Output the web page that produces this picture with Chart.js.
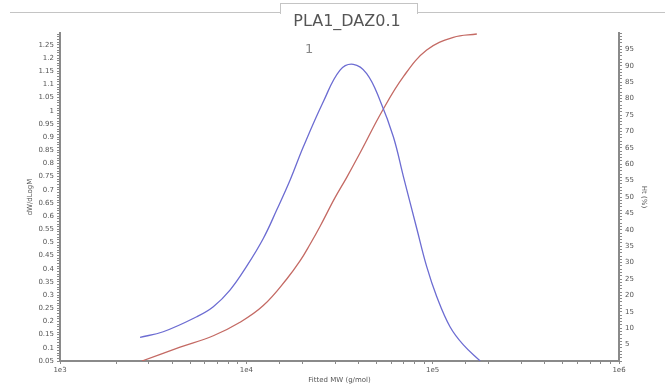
<!DOCTYPE html>
<html>
<head>
<meta charset="utf-8">
<script src="https://cdn.jsdelivr.net/npm/chart.js@4.4.1/dist/chart.umd.min.js"></script>
<style>
  html, body { margin: 0; padding: 0; background: #fff; }
  #wrap { position: relative; width: 665px; height: 386px; overflow: hidden; }
  #tabline { position: absolute; left: 10px; right: 0; top: 12px; border-top: 1px solid #c4c4c4; }
  #tab { position: absolute; left: 280px; top: 3px; width: 136px; height: 10px;
         border: 1px solid #c4c4c4; border-bottom: none; background: #fff; }
  #title { position: absolute; left: 0; width: 694px; top: 11px; text-align: center;
           font: 16px "DejaVu Sans", sans-serif; color: #555; }
  #peak { position: absolute; left: 305px; top: 41px; font: 13px "DejaVu Sans", sans-serif; color: #888; }
  canvas { position: absolute; left: 0; top: 0; }
</style>
</head>
<body>
<div id="wrap">
  <canvas id="chart" width="665" height="386"></canvas>
  <div id="tabline"></div>
  <div id="tab"></div>
  <div id="title">PLA1_DAZ0.1</div>
  <div id="peak">1</div>
</div>
<script>
// dW/dLogM curve
const mwDist = [2690, 3580, 5420, 6650, 8170, 10050, 12330, 14550, 17180, 20230, 25880, 31840, 37500,
                44260, 52120, 61520, 69660, 82220, 92900, 105200, 123900, 146200, 179900];
const dwdlogm = [0.140, 0.161, 0.218, 0.256, 0.319, 0.410, 0.515, 0.623, 0.737, 0.863, 1.034, 1.154, 1.176,
                 1.141, 1.040, 0.901, 0.750, 0.552, 0.408, 0.294, 0.180, 0.111, 0.050];

// cumulative Ht (%) curve
const mwCum = [2750, 4410, 6650, 9250, 12330, 16480, 19410, 21980, 24890, 29920, 34590, 40740,
               53330, 69660, 92900, 129100, 172600];
const htPct = [0, 4.2, 7.7, 11.8, 16.9, 25.0, 30.5, 35.6, 41.1, 49.8, 56.0, 63.4,
               76.0, 86.7, 94.8, 98.7, 99.7];

const axisColor = '#8a8a8a';
const tickFont = { family: 'DejaVu Sans', size: 7 };

const distPoints = mwDist.map((m, i) => ({ x: m, y: dwdlogm[i] }));
const cumPoints = mwCum.map((m, i) => ({ x: m, y: htPct[i] }));

new Chart(document.getElementById('chart'), {
    type: 'line',
    data: {
        datasets: [{
            data: distPoints,
            yAxisID: 'y',
            borderColor: '#6c6cd2',
            borderWidth: 1.3,
            pointRadius: 0,
            tension: 0.4
        }, {
            data: cumPoints,
            yAxisID: 'y1',
            borderColor: '#c46a64',
            borderWidth: 1.3,
            pointRadius: 0,
            tension: 0.4
        }]
    },
    options: {
        responsive: false,
        animation: false,
        layout: { padding: { top: 33 } },
        plugins: { legend: { display: false }, tooltip: { enabled: false } },
        scales: {
            x: {
                type: 'logarithmic',
                min: 1000,
                max: 1000000,
                afterFit: (s) => { s.height = 25; },
                border: { color: axisColor, width: 2 },
                grid: { drawOnChartArea: false, color: axisColor, tickLength: 3 },
                ticks: {
                    autoSkip: false,
                    maxRotation: 0,
                    padding: 2,
                    color: '#555',
                    font: tickFont,
                    callback: (v) => {
                        const e = Math.log10(v);
                        return Math.abs(e - Math.round(e)) < 1e-9 ? '1e' + Math.round(e) : '';
                    }
                },
                title: {
                    display: true,
                    text: 'Fitted MW (g/mol)',
                    color: '#555',
                    font: tickFont,
                    padding: { bottom: 2 }
                }
            },
            y: {
                position: 'left',
                min: 0.05,
                max: 1.295,
                afterFit: (s) => { s.width = 60; },
                border: { color: axisColor, width: 2 },
                grid: { drawOnChartArea: false, color: axisColor, tickLength: 3 },
                ticks: {
                    stepSize: 0.01,
                    autoSkip: false,
                    includeBounds: false,
                    padding: 3,
                    color: '#555',
                    font: tickFont,
                    callback: (v) => {
                        const n = Math.round(v * 100);
                        return n % 5 === 0 ? String(n / 100) : '';
                    }
                },
                title: {
                    display: true,
                    text: 'dW/dLogM',
                    color: '#555',
                    font: tickFont,
                    padding: { top: 26 }
                }
            },
            y1: {
                position: 'right',
                min: 0,
                max: 100,
                afterFit: (s) => { s.width = 46; },
                border: { color: axisColor, width: 2 },
                grid: { drawOnChartArea: false, color: axisColor, tickLength: 3 },
                ticks: {
                    stepSize: 1,
                    autoSkip: false,
                    padding: 3,
                    color: '#555',
                    font: tickFont,
                    callback: (v) => {
                        const n = Math.round(v);
                        return (n % 5 === 0 && n > 0 && n < 100) ? String(n) : '';
                    }
                },
                title: {
                    display: true,
                    text: 'Ht (%)',
                    color: '#555',
                    font: tickFont,
                    padding: { top: 17 }
                }
            }
        }
    }
});
</script>
</body>
</html>
